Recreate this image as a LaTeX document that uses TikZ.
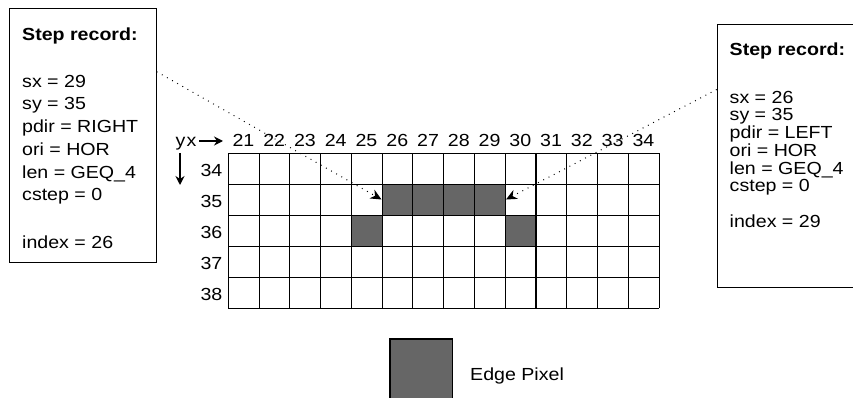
\documentclass[tikz,border=0pt]{standalone}
\usepackage{fontspec}
\setmainfont{Liberation Sans}[FakeStretch=1.12]
\usetikzlibrary{arrows.meta}
\definecolor{edgegray}{RGB}{102,102,102}
\begin{document}
\begin{tikzpicture}[x=1pt,y=-1pt,
  txt/.style={font=\fontsize{17.5}{21}\selectfont, inner sep=0pt, anchor=base west},
  btxt/.style={font=\fontsize{17.5}{21}\selectfont\bfseries, inner sep=0pt, anchor=base west},
  lbl/.style={font=\fontsize{17.5}{21}\selectfont, inner sep=0pt, anchor=base},
  rlbl/.style={font=\fontsize{17.5}{21}\selectfont, inner sep=0pt, anchor=base east},
  recbox/.style={draw, line width=1pt, inner sep=0pt, anchor=north west},
  conn/.style={line width=1pt, dash pattern=on 0.9pt off 5pt, -{Stealth[length=11pt,width=10pt]}},
  axarrow/.style={line width=1.4pt, -{Stealth[length=9pt,width=9pt]}},
  gridline/.style={line width=1.1pt}
]
\useasboundingbox (0,0) rectangle (853,398);
\clip (0,0) rectangle (853,398);
\fill[white] (0,0) rectangle (853,398);

% edge pixels
\foreach \c in {26,...,29}
  \fill[edgegray] ({228.3+(\c-21)*30.77},185) rectangle +(30.77,31);
\foreach \c in {25,30}
  \fill[edgegray] ({228.3+(\c-21)*30.77},216) rectangle +(30.77,31);

% grid
\foreach \i in {0,...,14}
  \draw[gridline] ({228.3+\i*30.77},153.3) -- ++(0,155);
\foreach \j in {0,...,5}
  \draw[gridline] (228.3,{153.3+\j*31}) -- ++(430.78,0);

% column labels
\foreach \c in {21,...,34}
  \node[lbl] (c\c) at ({228.3+(\c-21)*30.77+15.1},146.7) {\c};
% row labels
\foreach \r in {34,...,38}
  \node[rlbl] (r\r) at (222.5,{153.3+(\r-34)*31+23.5}) {\r};

% axis marks
\node[txt] (yx) at (175.5,146.7) {y\kern1pt x};
\coordinate (xa) at (199,141);
\coordinate (xb) at (223,141);
\draw[axarrow] (xa) -- (xb);
\coordinate (ya) at (180,153);
\coordinate (yb) at (180,185);
\draw[axarrow] (ya) -- (yb);

% left record box
\node[recbox, minimum width=146.4pt, minimum height=254pt] (lbox) at (9.3,8.3) {};
\node[btxt] (l0) at (22,40.7) {Step record:};
\node[txt] (l1) at (22,87.3) {sx = 29};
\node[txt] (l2) at (22,110) {sy = 35};
\node[txt] (l3) at (22,132.7) {pdir = RIGHT};
\node[txt] (l4) at (22,155.4) {ori = HOR};
\node[txt] (l5) at (22,178.1) {len = GEQ\_4};
\node[txt] (l6) at (22,200.8) {cstep = 0};
\node[txt] (l7) at (22,248.3) {index = 26};

% right record box
\node[recbox, minimum width=153.3pt, minimum height=262.7pt] (rbox) at (716.7,24) {};
\node[btxt] (q0) at (729.5,56) {Step record:};
\node[txt] (q1) at (729.5,103.3) {sx = 26};
\node[txt] (q2) at (729.5,121) {sy = 35};
\node[txt] (q3) at (729.5,138.7) {pdir = LEFT};
\node[txt] (q4) at (729.5,156.4) {ori = HOR};
\node[txt] (q5) at (729.5,174.1) {len = GEQ\_4};
\node[txt] (q6) at (729.5,191.8) {cstep = 0};
\node[txt] (q7) at (729.5,227.3) {index = 29};

% connectors
\coordinate (tipL) at (381.5,199.5);
\coordinate (tipR) at (506,199.5);
\draw[conn] ([yshift=-63.4pt]lbox.north east) -- (tipL);
\draw[conn] ([yshift=-65.5pt]rbox.north west) -- (tipR);

% legend
\node[recbox, line width=1.2pt, fill=edgegray, minimum width=62.4pt, minimum height=62.4pt] (leg) at (389.3,338.3) {};
\node[txt] (legtxt) at (470,380) {Edge Pixel};
\end{tikzpicture}
\end{document}
